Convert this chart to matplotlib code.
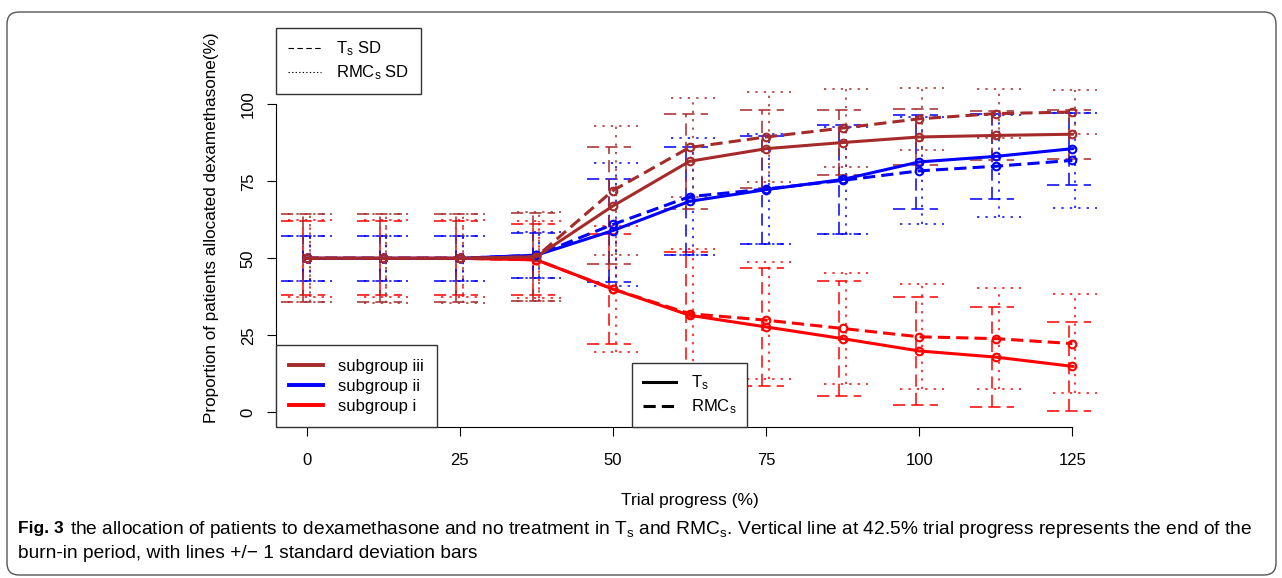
import numpy as np
import matplotlib
matplotlib.use("Agg")
import matplotlib.pyplot as plt
from matplotlib.lines import Line2D
from matplotlib.patches import FancyBboxPatch

plt.rcParams['font.family'] = ['Liberation Sans', 'DejaVu Sans']
plt.rcParams['mathtext.fontset'] = 'custom'
plt.rcParams['mathtext.rm'] = 'Liberation Sans'
plt.rcParams['mathtext.it'] = 'Liberation Sans:italic'
plt.rcParams['mathtext.bf'] = 'Liberation Sans:bold'

# trial progress (%)
progress = [0, 12.5, 25, 37.5, 50, 62.5, 75, 87.5, 100, 112.5, 125]

# subgroup i (red)
ts_i = [50, 50, 50, 49.5, 40, 31.5, 27.7, 23.9, 19.9, 17.9, 14.9]
rmc_i = [50, 50, 50, 49.5, 40, 32, 29.9, 27.2, 24.5, 23.9, 22.3]
ts_i_sd = [12, 12, 12, 11.5, 18, 20.5, 19.3, 18.7, 17.6, 16.2, 14.5]
rmc_i_sd = [12.5, 12.5, 12.5, 12.5, 20.5, 21, 19, 17.9, 17, 16.5, 16]

# subgroup ii (blue)
ts_ii = [50, 50, 50, 51, 59, 68.5, 72.3, 75.6, 81.3, 83.1, 85.6]
rmc_ii = [50, 50, 50, 51, 61, 70, 72.5, 75.3, 78.4, 79.9, 81.8]
ts_ii_sd = [7.3, 7.3, 7.3, 7.3, 16.6, 17.5, 17.5, 17.6, 15.4, 13.7, 11.7]
rmc_ii_sd = [7.3, 7.3, 7.3, 7.5, 20, 19, 18, 17.5, 17.4, 16.5, 15.4]

# subgroup iii (brown)
ts_iii = [50, 50, 50, 50.5, 67, 81.5, 85.6, 87.6, 89.4, 89.9, 90.3]
rmc_iii = [50, 50, 50, 50.5, 72, 86, 89.4, 92.3, 95.3, 97, 97.5]
ts_iii_sd = [14.3, 14.3, 14.3, 14.3, 19, 15.5, 12.7, 10.7, 9.2, 8, 8]
rmc_iii_sd = [14.3, 14.5, 14.5, 14.5, 21, 16, 14.6, 12.6, 10, 8, 7]

groups = [
    ("subgroup i", "#FF0000", ts_i, rmc_i, ts_i_sd, rmc_i_sd),
    ("subgroup ii", "#0000FF", ts_ii, rmc_ii, ts_ii_sd, rmc_ii_sd),
    ("subgroup iii", "#A52A2A", ts_iii, rmc_iii, ts_iii_sd, rmc_iii_sd),
]

DASHED = (0, (8, 4))
DOTTED = (0, (1.5, 4))
RMC_LINE = (0, (4, 2))
CAP = 3.6


def sd_bars(ax, x, mean, sd, color, ls, shift):
    xs = np.array(x) + shift
    lo = np.array(mean) - np.array(sd)
    hi = np.array(mean) + np.array(sd)
    ax.vlines(xs, lo, hi, colors=color, linestyles=ls, lw=1.1)
    ax.hlines(lo, xs - CAP, xs + CAP, colors=color, linestyles=ls, lw=1.1)
    ax.hlines(hi, xs - CAP, xs + CAP, colors=color, linestyles=ls, lw=1.1)


fig = plt.figure(figsize=(12.82, 5.78), dpi=100)
ax = fig.add_axes([276 / 1282, 1 - 427 / 578, 827 / 1282, 399 / 578])

for name, col, ts, rmc, ts_sd, rmc_sd in groups:
    sd_bars(ax, progress, ts, ts_sd, col, DASHED, -0.6)
    sd_bars(ax, progress, rmc, rmc_sd, col, DOTTED, 0.5)

for name, col, ts, rmc, ts_sd, rmc_sd in groups:
    ax.plot(progress, ts, color=col, lw=2.2, marker='o', ms=5.5,
            mfc='none', mew=1.5)
    ax.plot(progress, rmc, color=col, lw=2.2, ls=RMC_LINE, marker='o',
            ms=5.5, mfc='none', mew=1.5)

ax.set_xlim(-5, 130)
ax.set_ylim(-4.8, 124.8)
ax.set_xticks([0, 25, 50, 75, 100, 125])
ax.set_yticks([0, 25, 50, 75, 100])
for s in ['top', 'right']:
    ax.spines[s].set_visible(False)
ax.spines['left'].set_bounds(0, 100)
ax.spines['bottom'].set_bounds(0, 125)
ax.tick_params(direction='out', length=6.5, width=0.8, labelsize=12)
ax.tick_params(axis='x', pad=12)
ax.tick_params(axis='y', pad=8)
for lab in ax.get_yticklabels():
    lab.set_rotation(90)
    lab.set_va('center')
ax.set_xlabel("Trial progress (%)", fontsize=12.5, labelpad=18)
ax.set_ylabel("Proportion of patients allocated dexamethasone(%)",
              fontsize=12.3, labelpad=16)

# legends
leg_kw = dict(fancybox=False, edgecolor='#333333', framealpha=1,
              fontsize=12, borderaxespad=0, handlelength=2.0,
              handletextpad=0.9, borderpad=0.8, labelspacing=0.3)
h_sd = [Line2D([], [], color='black', lw=0.8, ls=(0, (5, 3))),
        Line2D([], [], color='black', lw=0.8, ls=(0, (1.2, 2)))]
leg1 = ax.legend(h_sd, [r"T$_{\mathrm{s}}$ SD", r"RMC$_{\mathrm{s}}$ SD"],
                 loc='upper left', bbox_to_anchor=(0, 1),
                 **{**leg_kw, 'borderpad': 0.7})
ax.add_artist(leg1)

h_grp = [Line2D([], [], color=g[1], lw=2.8) for g in groups[::-1]]
leg2 = ax.legend(h_grp, [g[0] for g in groups[::-1]], loc='lower left',
                 bbox_to_anchor=(0, 0), **leg_kw)
ax.add_artist(leg2)

h_meth = [Line2D([], [], color='black', lw=2.2),
          Line2D([], [], color='black', lw=2.2, ls=RMC_LINE)]
ax.legend(h_meth, [r"T$_{\mathrm{s}}$", r"RMC$_{\mathrm{s}}$"],
          loc='lower center', bbox_to_anchor=(0.5, 0),
          **{**leg_kw, 'borderpad': 0.65})

# figure frame and caption
frame = FancyBboxPatch((0.07, 0.03), 12.69, 5.63,
                       boxstyle="round,pad=0,rounding_size=0.12",
                       transform=fig.dpi_scale_trans, fc='none',
                       ec='#555555', lw=1.0)
fig.patches.append(frame)

fig.text(18 / 1282, 1 - 529 / 578, "Fig. 3", fontsize=12.5,
         fontweight='bold', va='center')
fig.text(70 / 1282, 1 - 529 / 578,
         r"the allocation of patients to dexamethasone and no treatment in "
         r"T$_{\mathrm{s}}$ and RMC$_{\mathrm{s}}$. Vertical line at 42.5% "
         r"trial progress represents the end of the", fontsize=13.8,
         va='center')
fig.text(18 / 1282, 1 - 553 / 578,
         "burn-in period, with lines +/\u2212 1 standard deviation bars",
         fontsize=13.8, va='center')

fig.savefig("out.png", dpi=100)
